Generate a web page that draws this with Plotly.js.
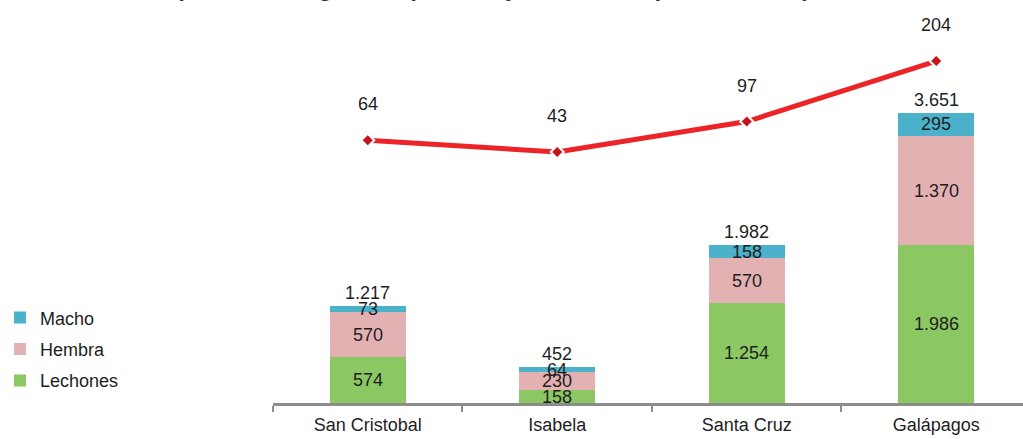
<!DOCTYPE html>
<html>
<head>
<meta charset="utf-8">
<script src="https://cdn.plot.ly/plotly-3.0.1.min.js"></script>
<style>html,body{margin:0;padding:0;background:#fff}#chart{width:1023px;height:439px}</style>
</head>
<body>
<div id="chart"></div>
<script>
var categories = ["San Cristobal", "Isabela", "Santa Cruz", "Galápagos"];
var lechones = [574, 158, 1254, 1986];
var hembra = [570, 230, 570, 1370];
var macho = [73, 64, 158, 295];
var totals = [1217, 452, 1982, 3651];
var unidades = [64, 43, 97, 204];
var titleText = "Composición de ganado porcino y número de productores porcinos";

function fmt(n){ return String(n).replace(/\B(?=(\d{3})+(?!\d))/g, "."); }

var FONT = "Liberation Sans, Arial, sans-serif";
var txtColor = "#1e1e1e";

var traces = [
  {type:"bar", name:"Lechones", legendgroup:"l", legendrank:3, x:categories, y:lechones, marker:{color:"#8bc863"}, width:0.4, hoverinfo:"y"},
  {type:"bar", name:"Hembra", legendgroup:"h", legendrank:2, x:categories, y:hembra, marker:{color:"#e3b1b2"}, width:0.4, hoverinfo:"y"},
  {type:"bar", name:"Macho", legendgroup:"m", legendrank:1, x:categories, y:macho, marker:{color:"#4cb2cb"}, width:0.4, hoverinfo:"y"},
  {type:"scatter", mode:"lines+markers", name:"Unidades", x:categories, y:unidades, yaxis:"y2",
   line:{color:"#ec2427", width:5}, marker:{symbol:"diamond", size:10, color:"#c4161c", line:{color:"#ffffff", width:2}},
   showlegend:false}
];

var annotations = [];
var series = [lechones, hembra, macho];
for (var i = 0; i < categories.length; i++) {
  var base = 0;
  for (var s = 0; s < series.length; s++) {
    var v = series[s][i];
    annotations.push({x:categories[i], y:base + v/2, xref:"x", yref:"y", text:fmt(v), showarrow:false,
      font:{family:FONT, size:18, color:txtColor}, yanchor:"middle"});
    base += v;
  }
  annotations.push({x:categories[i], y:totals[i], xref:"x", yref:"y", text:fmt(totals[i]), showarrow:false,
    font:{family:FONT, size:18, color:txtColor}, yanchor:"bottom", yshift:1});
  annotations.push({x:categories[i], y:unidades[i], xref:"x", yref:"y2", text:fmt(unidades[i]), showarrow:false,
    font:{family:FONT, size:18, color:txtColor}, yanchor:"middle", yshift:36});
}
// chart title, mostly cut off at the top edge as in the reference
annotations.push({xref:"paper", yref:"paper", x:0.5, y:1, xanchor:"center", yanchor:"bottom", yshift:17, xshift:-135,
  text:"<b>"+titleText+"</b>", showarrow:false, font:{family:FONT, size:24, color:"#333"}});

var layout = {
  width:1023, height:439,
  margin:{l:273, r:0, t:20, b:36, pad:0},
  paper_bgcolor:"#ffffff", plot_bgcolor:"#ffffff",
  barmode:"stack",
  font:{family:FONT, size:18, color:txtColor},
  xaxis:{type:"category", range:[-0.5, 3.458], showline:true, linecolor:"#8c8c8c", linewidth:3,
    ticks:"outside", tickson:"boundaries", ticklen:6, tickcolor:"#8c8c8c", tickwidth:2, ticklabelstandoff:3,
    showgrid:false, zeroline:false, tickfont:{family:FONT, size:18, color:txtColor}},
  yaxis:{range:[0, 4818], visible:false, showgrid:false, zeroline:false},
  yaxis2:{range:[-401, 276.6], overlaying:"y", side:"right", visible:false, showgrid:false, zeroline:false},
  legend:{xref:"container", yref:"container", x:0.0, y:0.318, xanchor:"left", yanchor:"top",
    traceorder:"grouped", font:{family:FONT, size:18, color:txtColor}, bgcolor:"rgba(0,0,0,0)",
    tracegroupgap:5, itemsizing:"constant", itemwidth:30},
  annotations:annotations,
  showlegend:true
};

Plotly.newPlot("chart", traces, layout, {displayModeBar:false, staticPlot:true});
</script>
</body>
</html>
